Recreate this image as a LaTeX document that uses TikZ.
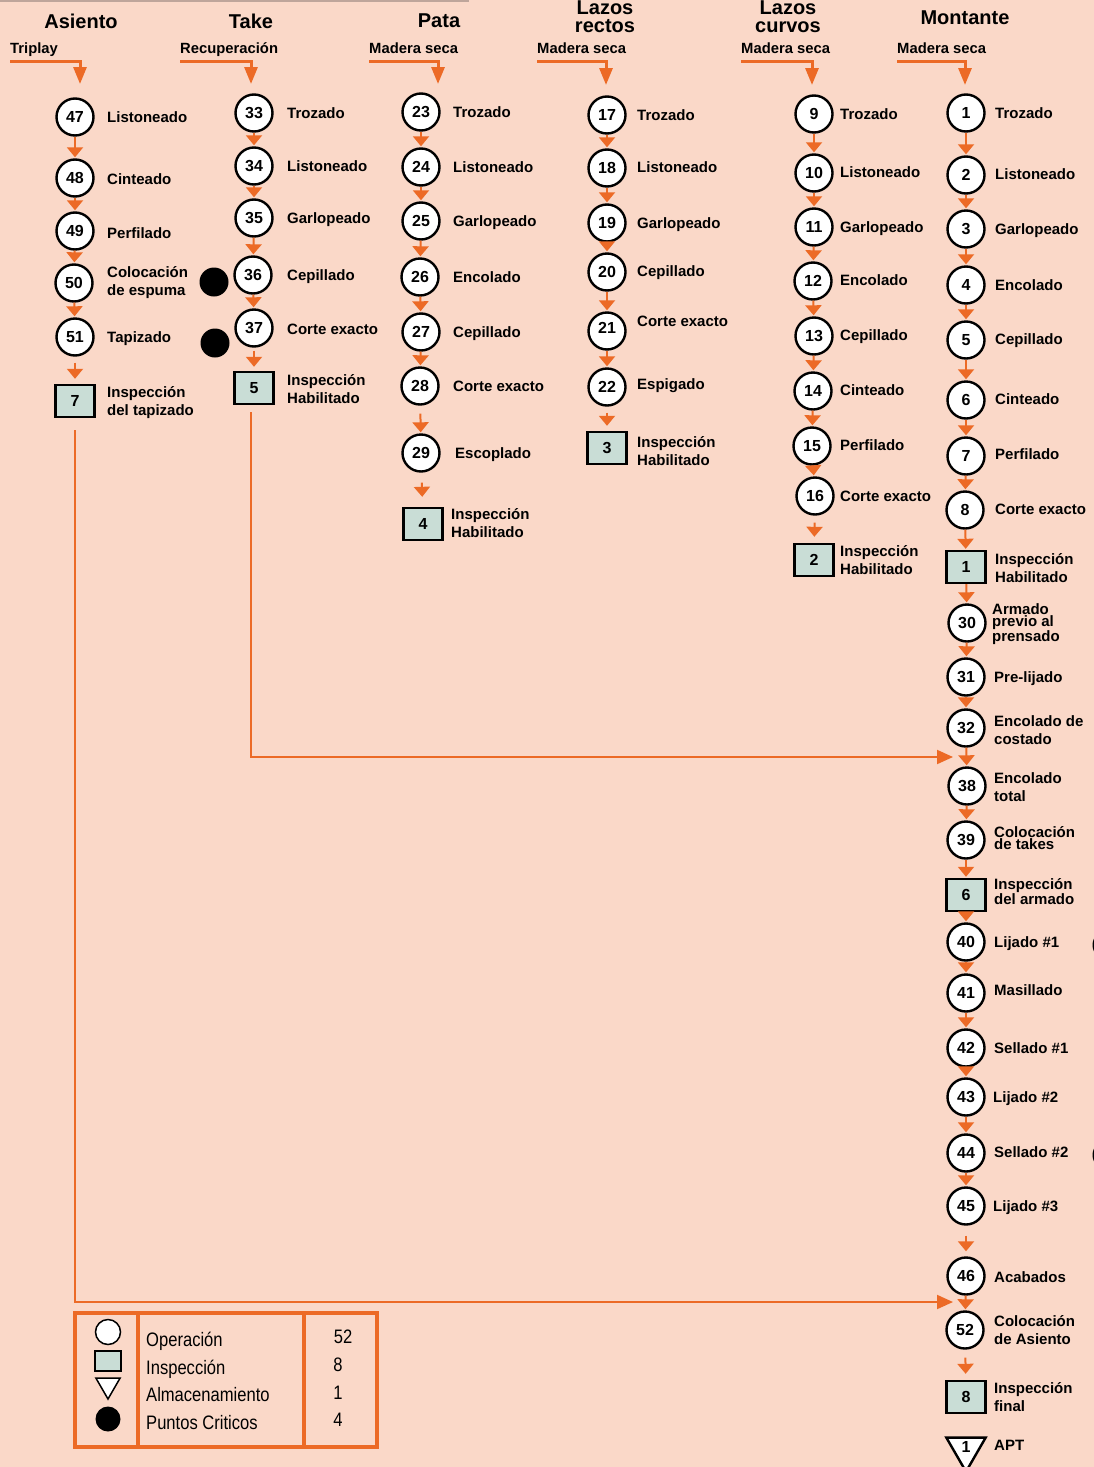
\documentclass[tikz,border=0pt]{standalone}
\usepackage{fontspec}
\setmainfont{Liberation Sans}
\newfontfamily\narrowsans[FakeStretch=0.85]{Liberation Sans}
\usetikzlibrary{arrows.meta,shapes.geometric,calc}

\definecolor{bgpeach}{RGB}{250,216,200}
\definecolor{orng}{RGB}{236,106,38}
\definecolor{inspfill}{RGB}{201,221,214}
\definecolor{rulegray}{RGB}{190,165,155}

\newcommand\lblfont{\fontsize{15}{18}\selectfont\bfseries}
\newcommand\tightfont{\fontsize{15}{12.5}\selectfont\bfseries}
\newcommand\numfont{\fontsize{16}{16}\selectfont\bfseries}
\newcommand\hdrfont{\fontsize{20}{18}\selectfont\bfseries}
\newcommand\srcfont{\fontsize{14.8}{16}\selectfont\bfseries}
\newcommand\legfont{\narrowsans\fontsize{19.5}{22}\selectfont}

\tikzset{
  op/.style={circle, draw=black, line width=2.4pt, fill=white,
    minimum size=37pt, inner sep=0pt, font=\numfont},
  insp/.style={rectangle, draw=black, line width=2.4pt, fill=inspfill,
    minimum width=39pt, minimum height=32pt, inner sep=0pt, font=\numfont},
  store/.style={regular polygon, regular polygon sides=3, shape border rotate=180,
    draw=black, line width=2.4pt, fill=white, minimum size=44pt, inner sep=0pt,
    font=\numfont},
  lbl/.style={anchor=west, inner sep=0pt, font=\lblfont, text height=11pt, text depth=0pt},
  lbltwo/.style={anchor=west, align=left, inner sep=0pt, font=\lblfont},
  lbltight/.style={anchor=west, align=left, inner sep=0pt, font=\tightfont},
  hdr/.style={align=center, inner sep=0pt, font=\hdrfont},
  src/.style={anchor=west, inner sep=0pt, font=\srcfont, text height=10.5pt, text depth=0pt},
  flow/.style={draw=orng, line width=2pt, shorten >=1pt,
    -{Triangle[width=16pt,length=10pt]}},
  inflow/.style={draw=orng, line width=3pt,
    -{Triangle[width=13pt,length=17pt]}},
  longflow/.style={draw=orng, line width=2pt,
    -{Triangle[width=14pt,length=16pt]}},
  critical/.style={circle, fill=black, minimum size=29pt, inner sep=0pt},
  legtxt/.style={anchor=west, inner sep=0pt, font=\legfont, text height=14pt, text depth=0pt},
  legnum/.style={inner sep=0pt, font=\legfont, text height=14pt, text depth=0pt},
}

\begin{document}
\begin{tikzpicture}[x=1pt, y=-1pt]
  \useasboundingbox (0,0) rectangle (1094,1467);
  \fill[bgpeach] (0,0) rectangle (1094,1467);
  \draw[rulegray, line width=1.5pt] (0,0.75) -- (469,0.75);

  % ---------- column headers ----------
  \node[hdr] (hAs) at (81,21) {Asiento};
  \node[hdr] (hTk) at (251,21) {Take};
  \node[hdr] (hPa) at (439,21) {Pata};
  \node[hdr] (hLr) at (605,17) {Lazos\\rectos};
  \node[hdr] (hLc) at (788,17) {Lazos\\curvos};
  \node[hdr] (hMo) at (965,18) {Montante};

  % ---------- raw materials ----------
  \node[src] (sAs) at (10,48) {Triplay};
  \node[src] (sTk) at (180,48) {Recuperación};
  \node[src] (sPa) at (369,48) {Madera seca};
  \node[src] (sLr) at (537,48) {Madera seca};
  \node[src] (sLc) at (741,48) {Madera seca};
  \node[src] (sMo) at (897,48) {Madera seca};

  \coordinate (tAs) at (80,84);
  \coordinate (tTk) at (251,84);
  \coordinate (tPa) at (438,84);
  \coordinate (tLr) at (606,85);
  \coordinate (tLc) at (812,85);
  \coordinate (tMo) at (965,85);

  \foreach \s/\t in {sAs/tAs, sTk/tTk, sPa/tPa, sLr/tLr, sLc/tLc, sMo/tMo}
    \draw[inflow] ($(\s.west)+(0,13)$) -| (\t);

  % ---------- Asiento ----------
  \node[op] (n47) at (75,117) {47};
  \node[op] (n48) at (75,178) {48};
  \node[op] (n49) at (75,231) {49};
  \node[op] (n50) at (74,283) {50};
  \node[op] (n51) at (75,337) {51};
  \node[insp] (s7) at (75,401) {7};
  \node[lbl] (l47) at (107,117) {Listoneado};
  \node[lbl] (l48) at (107,179) {Cinteado};
  \node[lbl] (l49) at (107,233) {Perfilado};
  \node[lbltwo] (l50) at (107,283) {Colocación\\de espuma};
  \node[lbl] (l51) at (107,337) {Tapizado};
  \node[lbltwo] (l7) at (107,403) {Inspección\\del tapizado};

  % ---------- Take ----------
  \node[op] (n33) at (254,113) {33};
  \node[op] (n34) at (254,166) {34};
  \node[op] (n35) at (254,218) {35};
  \node[op] (n36) at (253,275) {36};
  \node[op] (n37) at (254,328) {37};
  \node[insp] (s5) at (254,388) {5};
  \node[lbl] (l33) at (287,113) {Trozado};
  \node[lbl] (l34) at (287,166) {Listoneado};
  \node[lbl] (l35) at (287,218) {Garlopeado};
  \node[lbl] (l36) at (287,275) {Cepillado};
  \node[lbl] (l37) at (287,329) {Corte exacto};
  \node[lbltwo] (l5) at (287,389) {Inspección\\Habilitado};

  % ---------- Pata ----------
  \node[op] (n23) at (421,112) {23};
  \node[op] (n24) at (421,167) {24};
  \node[op] (n25) at (421,221) {25};
  \node[op] (n26) at (420,277) {26};
  \node[op] (n27) at (421,332) {27};
  \node[op] (n28) at (420,386) {28};
  \node[op] (n29) at (421,453) {29};
  \node[insp] (s4) at (423,524) {4};
  \node[lbl] (l23) at (453,112) {Trozado};
  \node[lbl] (l24) at (453,167) {Listoneado};
  \node[lbl] (l25) at (453,221) {Garlopeado};
  \node[lbl] (l26) at (453,277) {Encolado};
  \node[lbl] (l27) at (453,332) {Cepillado};
  \node[lbl] (l28) at (453,386) {Corte exacto};
  \node[lbl] (l29) at (455,453) {Escoplado};
  \node[lbltwo] (l4) at (451,523) {Inspección\\Habilitado};

  % ---------- Lazos rectos ----------
  \node[op] (n17) at (607,115) {17};
  \node[op] (n18) at (607,168) {18};
  \node[op] (n19) at (607,223) {19};
  \node[op] (n20) at (607,272) {20};
  \node[op] (n21) at (607,331) {\raisebox{7pt}{21}};
  \node[op] (n22) at (607,387) {22};
  \node[insp] (s3) at (607,448) {3};
  \node[lbl] (l17) at (637,115) {Trozado};
  \node[lbl] (l18) at (637,167) {Listoneado};
  \node[lbl] (l19) at (637,223) {Garlopeado};
  \node[lbl] (l20) at (637,271) {Cepillado};
  \node[lbl] (l21) at (637,321) {Corte exacto};
  \node[lbl] (l22) at (637,384) {Espigado};
  \node[lbltwo] (l3) at (637,451) {Inspección\\Habilitado};

  % ---------- Lazos curvos ----------
  \node[op] (n9) at (814,114) {9};
  \node[op] (n10) at (814,173) {10};
  \node[op] (n11) at (814,227) {11};
  \node[op] (n12) at (813,281) {12};
  \node[op] (n13) at (814,336) {13};
  \node[op] (n14) at (813,391) {14};
  \node[op] (n15) at (812,446) {15};
  \node[op] (n16) at (815,496) {16};
  \node[insp] (s2) at (814,560) {2};
  \node[lbl] (l9) at (840,114) {Trozado};
  \node[lbl] (l10) at (840,172) {Listoneado};
  \node[lbl] (l11) at (840,227) {Garlopeado};
  \node[lbl] (l12) at (840,280) {Encolado};
  \node[lbl] (l13) at (840,335) {Cepillado};
  \node[lbl] (l14) at (840,390) {Cinteado};
  \node[lbl] (l15) at (840,445) {Perfilado};
  \node[lbl] (l16) at (840,496) {Corte exacto};
  \node[lbltwo] (l2) at (840,560) {Inspección\\Habilitado};

  % ---------- Montante ----------
  \node[op] (n1) at (966,113) {1};
  \node[op] (n2) at (966,175) {2};
  \node[op] (n3) at (966,229) {3};
  \node[op] (n4) at (966,285) {4};
  \node[op] (n5) at (966,340) {5};
  \node[op] (n6) at (966,400) {6};
  \node[op] (n7) at (966,456) {7};
  \node[op] (n8) at (965,510) {8};
  \node[insp] (s1) at (966,567) {1};
  \node[op] (n30) at (967,623) {30};
  \node[op] (n31) at (966,677) {31};
  \node[op] (n32) at (966,728) {32};
  \node[op] (n38) at (967,786) {38};
  \node[op] (n39) at (966,840) {39};
  \node[insp] (s6) at (966,895) {6};
  \node[op] (n40) at (966,942) {40};
  \node[op] (n41) at (966,993) {41};
  \node[op] (n42) at (966,1048) {42};
  \node[op] (n43) at (966,1097) {43};
  \node[op] (n44) at (966,1153) {44};
  \node[op] (n45) at (966,1206) {45};
  \node[op] (n46) at (966,1276) {46};
  \node[op] (n52) at (965,1330) {52};
  \node[insp] (s8) at (966,1397) {8};
  \node[store] (t1) at (966,1449) {\raisebox{5pt}{1}};

  \node[lbl] (l1) at (995,113) {Trozado};
  \node[lbl] (l2m) at (995,174) {Listoneado};
  \node[lbl] (l3m) at (995,229) {Garlopeado};
  \node[lbl] (l4m) at (995,285) {Encolado};
  \node[lbl] (l5m) at (995,339) {Cepillado};
  \node[lbl] (l6m) at (995,399) {Cinteado};
  \node[lbl] (l7m) at (995,454) {Perfilado};
  \node[lbl] (l8m) at (995,509) {Corte exacto};
  \node[lbltwo] (l1s) at (995,568) {Inspección\\Habilitado};
  \node[lbltight] (l30) at (992,624) {Armado\\previo al\\prensado};
  \node[lbl] (l31) at (994,677) {Pre-lijado};
  \node[lbltwo] (l32) at (994,730) {Encolado de\\costado};
  \node[lbltwo] (l38) at (994,787) {Encolado\\total};
  \node[lbltight] (l39) at (994,838) {Colocación\\de takes};
  \node[lbltight] (l6s) at (994,892) {Inspección\\del armado};
  \node[lbl] (l40) at (994,942) {Lijado \#1};
  \node[lbl] (l41) at (994,990) {Masillado};
  \node[lbl] (l42) at (994,1048) {Sellado \#1};
  \node[lbl] (l43) at (993,1097) {Lijado \#2};
  \node[lbl] (l44) at (994,1152) {Sellado \#2};
  \node[lbl] (l45) at (993,1206) {Lijado \#3};
  \node[lbl] (l46) at (994,1277) {Acabados};
  \node[lbltwo] (l52) at (994,1330) {Colocación\\de Asiento};
  \node[lbltwo] (l8s) at (994,1397) {Inspección\\final};
  \node[lbl] (lt1) at (994,1445) {APT};

  % ---------- critical points ----------
  \node[critical] (c1) at (214,282) {};
  \node[critical] (c2) at (215,343) {};
  \node[critical] (c3) at (1107,945) {};
  \node[critical] (c4) at (1107,1155) {};

  % ---------- flow within each column ----------
  \foreach \a/\b in {n47/n48, n48/n49, n49/n50, n50/n51,
                     n33/n34, n34/n35, n35/n36, n36/n37,
                     n23/n24, n24/n25, n25/n26, n26/n27, n27/n28,
                     n17/n18, n18/n19, n19/n20, n20/n21, n21/n22,
                     n9/n10, n10/n11, n11/n12, n12/n13, n13/n14, n14/n15, n15/n16,
                     n1/n2, n2/n3, n3/n4, n4/n5, n5/n6, n6/n7, n7/n8, n8/s1,
                     s1/n30, n30/n31, n31/n32, n32/n38, n38/n39, n39/s6,
                     s6/n40, n40/n41, n41/n42, n42/n43, n43/n44, n44/n45, n46/n52}
    \draw[flow] (\a) -- (\b);

  \draw[flow, shorten <=6pt, shorten >=5pt] (n51) -- (s7);
  \draw[flow, shorten <=3pt, shorten >=4pt] (n37) -- (s5);
  \draw[flow, shorten <=8pt] (n28) -- (n29);
  \draw[flow, shorten <=10pt, shorten >=10pt] (n29) -- (s4);
  \draw[flow, shorten <=6pt, shorten >=5pt] (n22) -- (s3);
  \draw[flow, shorten <=7pt, shorten >=6pt] (n16) -- (s2);
  \draw[flow, shorten <=10pt, shorten >=5pt] (n45) -- (n46);
  \draw[flow, shorten <=8pt, shorten >=6pt] (n52) -- (s8);

  % ---------- sub-assemblies joining the main line ----------
  \coordinate (j38) at (953,757);
  \coordinate (j52) at (953,1302);
  \draw[longflow, shorten <=7pt] ([xshift=-3pt]s5.south) |- (j38);
  \draw[longflow, shorten <=12pt] (s7.south) |- (j52);

  % ---------- summary table ----------
  \draw[orng, line width=4.5pt] (75,1313) rectangle (377,1447);
  \draw[orng, line width=4.5pt] (138,1313) -- (138,1447);
  \draw[orng, line width=4.5pt] (304,1313) -- (304,1447);

  \node[circle, draw=black, line width=1.5pt, fill=white, minimum size=25pt, inner sep=0pt]
    (kOp) at (108,1332) {};
  \node[rectangle, draw=black, line width=1.5pt, fill=inspfill, minimum width=26pt,
    minimum height=20pt, inner sep=0pt] (kIn) at (108,1361) {};
  \node[regular polygon, regular polygon sides=3, shape border rotate=180, draw=black,
    line width=1.5pt, fill=white, minimum size=28pt, inner sep=0pt] (kAl) at (108,1385) {};
  \node[circle, fill=black, minimum size=25pt, inner sep=0pt] (kPc) at (108,1419) {};

  \node[legtxt] (kOpT) at (146,1339) {Operación};
  \node[legtxt] (kInT) at (146,1367) {Inspección};
  \node[legtxt] (kAlT) at (146,1394) {Almacenamiento};
  \node[legtxt] (kPcT) at (146,1422) {Puntos Criticos};

  \node[legnum] (kOpN) at (343,1336) {52};
  \node[legnum] (kInN) at (338,1364) {8};
  \node[legnum] (kAlN) at (338,1392) {1};
  \node[legnum] (kPcN) at (338,1419) {4};
\end{tikzpicture}
\end{document}
